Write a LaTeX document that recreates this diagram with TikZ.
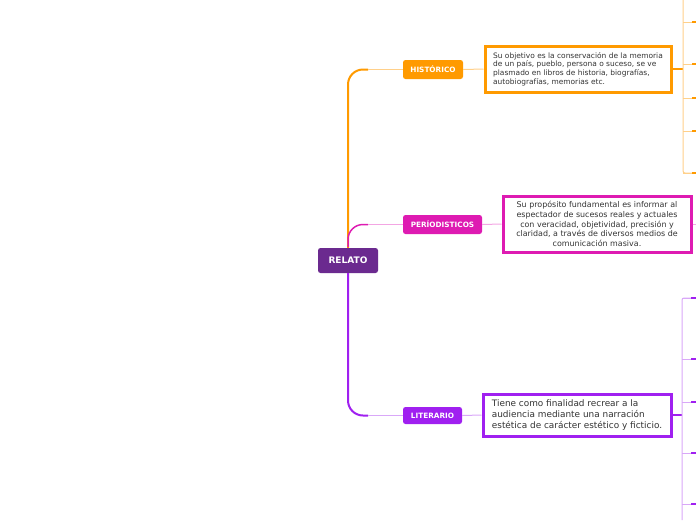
\documentclass[tikz,border=0pt]{standalone}
\usepackage{fontspec}
\setmainfont{DejaVu Sans}
\definecolor{relatoc}{HTML}{6B2A8F}
\definecolor{histc}{HTML}{FF9A00}
\definecolor{histl}{HTML}{FFD08A}
\definecolor{perc}{HTML}{DE1BB2}
\definecolor{perl}{HTML}{F3A6E3}
\definecolor{litc}{HTML}{A020F0}
\definecolor{litl}{HTML}{D9A8F8}
\definecolor{txtc}{HTML}{333333}

\begin{document}
\begin{tikzpicture}[x=1pt,y=-1pt,
    topic/.style={rounded corners=2.5pt,text=white,inner sep=0pt,minimum height=19pt,font=\bfseries\fontsize{7.3}{8}\selectfont},
    descbox/.style={draw,line width=3pt,fill=white,text=txtc,inner sep=0pt,align=left},
    spine/.style={line width=2pt,rounded corners=15pt},
    twig/.style={line width=1pt}]
    \useasboundingbox (0,0) rectangle (696,520);
    \node[topic,fill=relatoc,minimum width=60pt,minimum height=25pt,font=\bfseries\fontsize{9}{10}\selectfont] (relato) at (348,260.5) {RELATO};
    \node[topic,fill=histc,minimum width=60pt] (historico) at (433,69.5) {HISTÓRICO};
    \node[topic,fill=perc,minimum width=79pt] (periodisticos) at (442.5,224.5) {PERÍODISTICOS};
    \node[topic,fill=litc,minimum width=59pt,minimum height=17pt] (literario) at (432.5,415.5) {LITERARIO};
    \node[descbox,draw=histc,minimum width=186pt,minimum height=46pt,font=\fontsize{7.45}{8.7}\selectfont] (objetivo) at (578,69) {Su objetivo es la conservación de la memoria\\de un país, pueblo, persona o suceso, se ve\\plasmado en libros de historia, biografías,\\autobiografías, memorias etc.};
    \node[descbox,draw=perc,align=center,minimum width=188pt,minimum height=56pt,font=\fontsize{7.95}{9.7}\selectfont] (proposito) at (597,224) {Su propósito fundamental es informar al\\espectador de sucesos reales y actuales\\con veracidad, objetividad, precisión y\\claridad, a través de diversos medios de\\comunicación masiva.};
    \node[descbox,draw=litc,minimum width=188pt,minimum height=42pt,font=\fontsize{8.9}{11}\selectfont] (finalidad) at (577,415) {Tiene como finalidad recrear a la\\audiencia mediante una narración\\estética de carácter estético y ficticio.};
    \coordinate (hturn) at (368,69.5);
    \coordinate (pturn) at (368,224.5);
    \coordinate (lturn) at (368,415.5);
    \draw[spine,histc] (relato.north) |- (hturn);
    \draw[spine,perc,line width=1.5pt] ([yshift=1pt]relato.north) |- (pturn);
    \draw[spine,litc] (relato.south) |- (lturn);
    \draw[twig,histl] (hturn) -- (historico.west);
    \draw[twig,perl] (pturn) -- (periodisticos.west);
    \draw[twig,litl] (lturn) -- (literario.west);
    \draw[twig,histl] (historico.east) -- (objetivo.west);
    \draw[twig,perl] (periodisticos.east) -- (proposito.west);
    \draw[twig,litl] (literario.east) -- (finalidad.west);
    \coordinate (hbrack) at (683,69);
    \coordinate (lbrack) at (682,415);
    \coordinate (pend) at (696,224);
    \draw[histc,line width=1.5pt] (objetivo.east) -- (hbrack);
    \draw[litc,line width=1.5pt] (finalidad.east) -- (lbrack);
    \draw[twig,perl] (proposito.east) -- (pend);
    \draw[twig,histl,rounded corners=2pt] (683,0) -- (683,173) -- (693,173);
    \foreach \yy/\nm in {22/ha,64/hb,98/hc,131/hd,173/he} {
        \coordinate (\nm) at (696,\yy);
        \draw[twig,histl] (683,\yy) -- ++(10,0);
        \draw[histc,line width=2.2pt] (692,\yy) -- (\nm);
    }
    \draw[twig,litl,rounded corners=2pt] (693,298) -- (682,298) -- (682,520);
    \foreach \yy/\nm in {298/la,359/lb,402/lc,453/ld,504/le} {
        \coordinate (\nm) at (696,\yy);
        \draw[twig,litl] (682,\yy) -- ++(10,0);
        \draw[litc,line width=2.2pt] (691,\yy) -- (\nm);
    }
\end{tikzpicture}
\end{document}
